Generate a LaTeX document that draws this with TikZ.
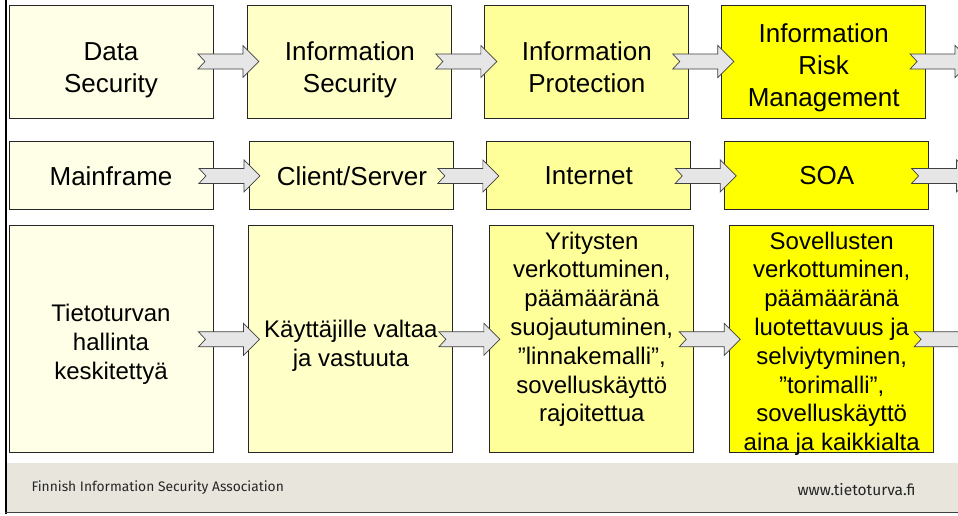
\documentclass[tikz,border=0pt]{standalone}
\usepackage{fontspec}
\setmainfont{Liberation Sans}
\newfontfamily\footfont{Fira Sans}
\usetikzlibrary{positioning}
\usetikzlibrary{calc}
\definecolor{stageA}{HTML}{FFFFE8}
\definecolor{stageB}{HTML}{FFFFC8}
\definecolor{stageC}{HTML}{FFFF99}
\definecolor{stageD}{HTML}{FFFF00}
\definecolor{arrowgray}{HTML}{E6E6E6}
\definecolor{footband}{HTML}{E8E5DD}
% block arrow across the gap between two boxes
\newcommand{\flow}[2]{%
  \draw[flowarrow] let \p1=(#1), \p2=(#2), \p3=($(\p1)!.5!(\p2)$) in
    (\x3-32.5pt,\y1+7.5pt) -- ++(45pt,0pt) -- ++(0pt,8.5pt) -- ++(16pt,-16pt)
    -- ++(-16pt,-16pt) -- ++(0pt,8.5pt) -- ++(-45pt,0pt) -- ++(7pt,7.5pt) -- cycle;}
% stacked lines, set a little lower in their box
\newcommand{\sunk}[2]{\raisebox{-#1}[\height][\depth]{\begin{tabular}{@{}c@{}}#2\end{tabular}}}

\begin{document}
\begin{tikzpicture}[x=1pt,y=-1pt,
  box/.style={rectangle,draw=black!85,line width=0.9pt,minimum width=204pt,inner sep=0pt},
  concept/.style={box,minimum height=113pt,align=center,font=\fontsize{26}{32}\selectfont},
  platform/.style={box,minimum height=68pt,align=center,font=\fontsize{26}{32}\selectfont},
  approach/.style={box,minimum height=227pt,align=center,font=\fontsize{24}{28.8}\selectfont},
  flowarrow/.style={draw=black!75,fill=arrowgray,line width=0.7pt,line join=miter}]
\useasboundingbox (0,0) rectangle (958,515);
\clip (0,0) rectangle (958,515);

% row 1: concepts
\node [concept,fill=stageA] (datasec) at (111,61.5) {\sunk{9pt}{Data\\Security}};
\node [concept,fill=stageB,right=34pt of datasec] (infosec) {\sunk{9pt}{Information\\Security}};
\node [concept,fill=stageC,right=32pt of infosec] (infoprot) {\sunk{9pt}{Information\\Protection}};
\node [concept,fill=stageD,right=32pt of infoprot] (inforisk) {\sunk{7pt}{Information\\Risk\\Management}};

% row 2: platforms
\node [platform,fill=stageA,below=23pt of datasec] (mainframe) {Mainframe};
\node [platform,fill=stageB,right=36pt of mainframe] (cliserv) {Client/Server};
\node [platform,fill=stageC,right=32pt of cliserv] (internet) {Internet};
\node [platform,fill=stageD,right=33pt of internet] (soa) {SOA};

% row 3: approaches
\node [approach,fill=stageA,below=15pt of mainframe] (central) {\sunk{5.3pt}{Tietoturvan\\hallinta\\keskitettyä}};
\node [approach,fill=stageB,right=35pt of central] (users) {\sunk{7.3pt}{Käyttäjille valtaa\\ja vastuuta}};
\node [approach,fill=stageC,right=36pt of users] (fortress) {\parbox[c][215pt][t]{204pt}{\centering
  Yritysten\\verkottuminen,\\päämääränä\\suojautuminen,\\”linnakemalli”,\\sovelluskäyttö\\rajoitettua}};
\node [approach,fill=stageD,right=35pt of fortress] (market) {\parbox[c][215pt][t]{204pt}{\centering
  Sovellusten\\verkottuminen,\\päämääränä\\luotettavuus ja\\selviytyminen,\\”torimalli”,\\sovelluskäyttö\\aina ja kaikkialta}};

\coordinate (rim1) at (959,61.5);
\coordinate (rim2) at (959,175);
\coordinate (rim3) at (959,337.5);

\flow{datasec.east}{infosec.west}
\flow{infosec.east}{infoprot.west}
\flow{infoprot.east}{inforisk.west}
\flow{inforisk.east}{rim1}
\flow{mainframe.east}{cliserv.west}
\flow{cliserv.east}{internet.west}
\flow{internet.east}{soa.west}
\flow{soa.east}{rim2}
\flow{central.east}{users.west}
\flow{users.east}{fortress.west}
\flow{fortress.east}{market.west}
\flow{market.east}{rim3}

% footer band
\fill [footband] (7,463) rectangle (958,512.7);
\node [anchor=west,text=black!85,font=\footfont\fontsize{13.8}{16}\selectfont] (assoc) at (28,488) {Finnish Information Security Association};
\node [anchor=east,text=black!85,font=\footfont\fontsize{15.5}{18}\selectfont] (website) at (919,490) {www.tietoturva.fi};
\draw [line width=2.2pt] (6,0) -- (6,513.6);
\draw [line width=1.2pt,black!75] (5,512.7) -- (958,512.7);
\end{tikzpicture}
\end{document}
